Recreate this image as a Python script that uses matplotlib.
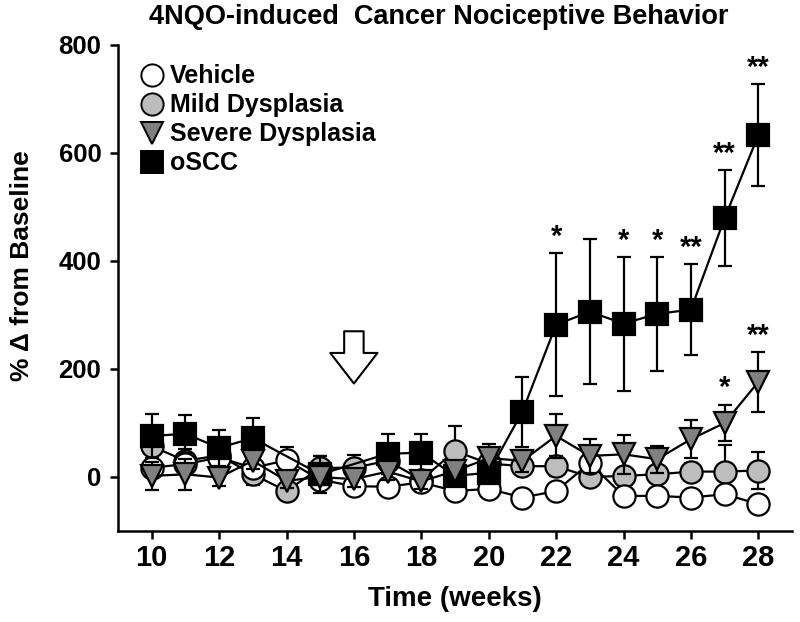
import numpy as np
import matplotlib
matplotlib.use("Agg")
import matplotlib.pyplot as plt

plt.rcParams['font.family'] = ['Liberation Sans', 'DejaVu Sans']
plt.rcParams['font.weight'] = 'bold'

# weeks
weeks = [10, 11, 12, 13, 14, 15, 16, 17, 18, 19, 20, 21, 22, 23, 24, 25, 26, 27, 28]
weeks_scc = [10, 11, 12, 13, 15, 17, 18, 19, 20, 21, 22, 23, 24, 25, 26, 27, 28]

vehicle = [17, 24, 36, 17, 31, -5, -17, -18, -10, -26, -22, -38, -26, 26, -35, -35, -38, -32, -50]
vehicle_sem = [12, 14, 10, 12, 24, 10, 12, 10, 10, 10, 10, 10, 12, 12, 10, 10, 10, 12, 10]

mild = [57, 30, 40, 5, -26, 17, 17, 30, -5, 48, 25, 20, 20, 0, 2, 5, 10, 10, 12]
mild_sem = [30, 22, 15, 20, 12, 22, 24, 20, 16, 47, 20, 15, 18, 15, 14, 12, 16, 50, 35]

severe = [2, 5, -1, 30, -7, 0, -4, 10, -8, 11, 35, 30, 76, 39, 42, 33, 70, 100, 176]
severe_sem = [26, 29, 15, 15, 14, 14, 14, 15, 14, 15, 26, 20, 41, 31, 36, 25, 35, 34, 55]

scc = [76, 80, 54, 72, 5, 43, 45, 2, 8, 121, 282, 306, 284, 302, 310, 479, 633]
scc_sem = [41, 35, 33, 38, 34, 37, 35, 15, 15, 65, 132, 134, 124, 105, 84, 89, 95]

# significance marks
star_weeks_scc = [22, 24, 25, 26, 27, 28]
star_text_scc = ['*', '*', '*', '**', '**', '**']
star_weeks_sev = [27, 28]
star_text_sev = ['*', '**']

fig = plt.figure(figsize=(8, 6.22), dpi=100)
ax = fig.add_axes([0.1475, 0.1463, 0.8425, 0.7814])

style = dict(color='black', lw=1.6, elinewidth=1.6, capsize=5, capthick=1.6,
             markersize=16, markeredgecolor='black', markeredgewidth=1.6)

ax.errorbar(weeks, mild, yerr=mild_sem, marker='o', markerfacecolor='#bdbdbd',
            label='Mild Dysplasia', zorder=2, **style)
ax.errorbar(weeks, vehicle, yerr=vehicle_sem, marker='o', markerfacecolor='white',
            label='Vehicle', zorder=3, **style)
ax.errorbar(weeks_scc, scc, yerr=scc_sem, marker='s', markerfacecolor='black',
            label='oSCC', zorder=4, **style)
ax.errorbar(weeks, severe, yerr=severe_sem, marker='v', markerfacecolor='#808080',
            label='Severe Dysplasia', zorder=5, **style)

for w, t in zip(star_weeks_scc, star_text_scc):
    i = weeks_scc.index(w)
    ax.text(w, scc[i] + scc_sem[i] + 30, t, ha='center', va='center',
            fontsize=21, fontweight='bold')
for w, t in zip(star_weeks_sev, star_text_sev):
    i = weeks.index(w)
    ax.text(w, severe[i] + severe_sem[i] + 30, t, ha='center', va='center',
            fontsize=21, fontweight='bold')

# treatment arrow at week 16
ax.annotate('', xy=(16, 168), xytext=(16, 275),
            arrowprops=dict(arrowstyle='simple,head_width=1.7,head_length=1.1,tail_width=0.7',
                            fc='white', ec='black', lw=1.5, mutation_scale=20))

ax.set_xlim(9, 29)
ax.set_ylim(-100, 800)
ax.set_xticks(range(10, 29, 2))
ax.set_yticks([0, 200, 400, 600, 800])
ax.tick_params(axis='both', direction='out', length=6, width=1.8)
ax.tick_params(axis='y', pad=6)
for lab in ax.get_xticklabels():
    lab.set_fontsize(21)
    lab.set_fontweight('bold')
for lab in ax.get_yticklabels():
    lab.set_fontsize(18.5)
    lab.set_fontweight('bold')

for s in ['top', 'right']:
    ax.spines[s].set_visible(False)
for s in ['left', 'bottom']:
    ax.spines[s].set_linewidth(1.8)

ax.set_xlabel('Time (weeks)', fontsize=20, fontweight='bold', labelpad=10)
ax.set_ylabel('% Δ from Baseline', fontsize=19, fontweight='bold')
ax.yaxis.set_label_coords(-0.124, 0.547)
fig.text(0.548, 0.973, '4NQO-induced  Cancer Nociceptive Behavior', fontsize=19.5,
         fontweight='bold', ha='center', va='center')

handles, labels = ax.get_legend_handles_labels()
order = ['Vehicle', 'Mild Dysplasia', 'Severe Dysplasia', 'oSCC']
hmap = dict(zip(labels, handles))
leg_handles = []
for name in order:
    h = hmap[name][0]
    leg_handles.append(plt.Line2D([], [], linestyle='none', marker=h.get_marker(),
                                  markersize=16, markerfacecolor=h.get_markerfacecolor(),
                                  markeredgecolor='black', markeredgewidth=1.4))
ax.legend(leg_handles, order, loc='upper left', bbox_to_anchor=(-0.012, 0.996),
          frameon=False, prop={'size': 18, 'weight': 'bold'},
          handletextpad=-0.3, labelspacing=0.2, borderaxespad=0.3)

fig.savefig('out.png', dpi=100)
